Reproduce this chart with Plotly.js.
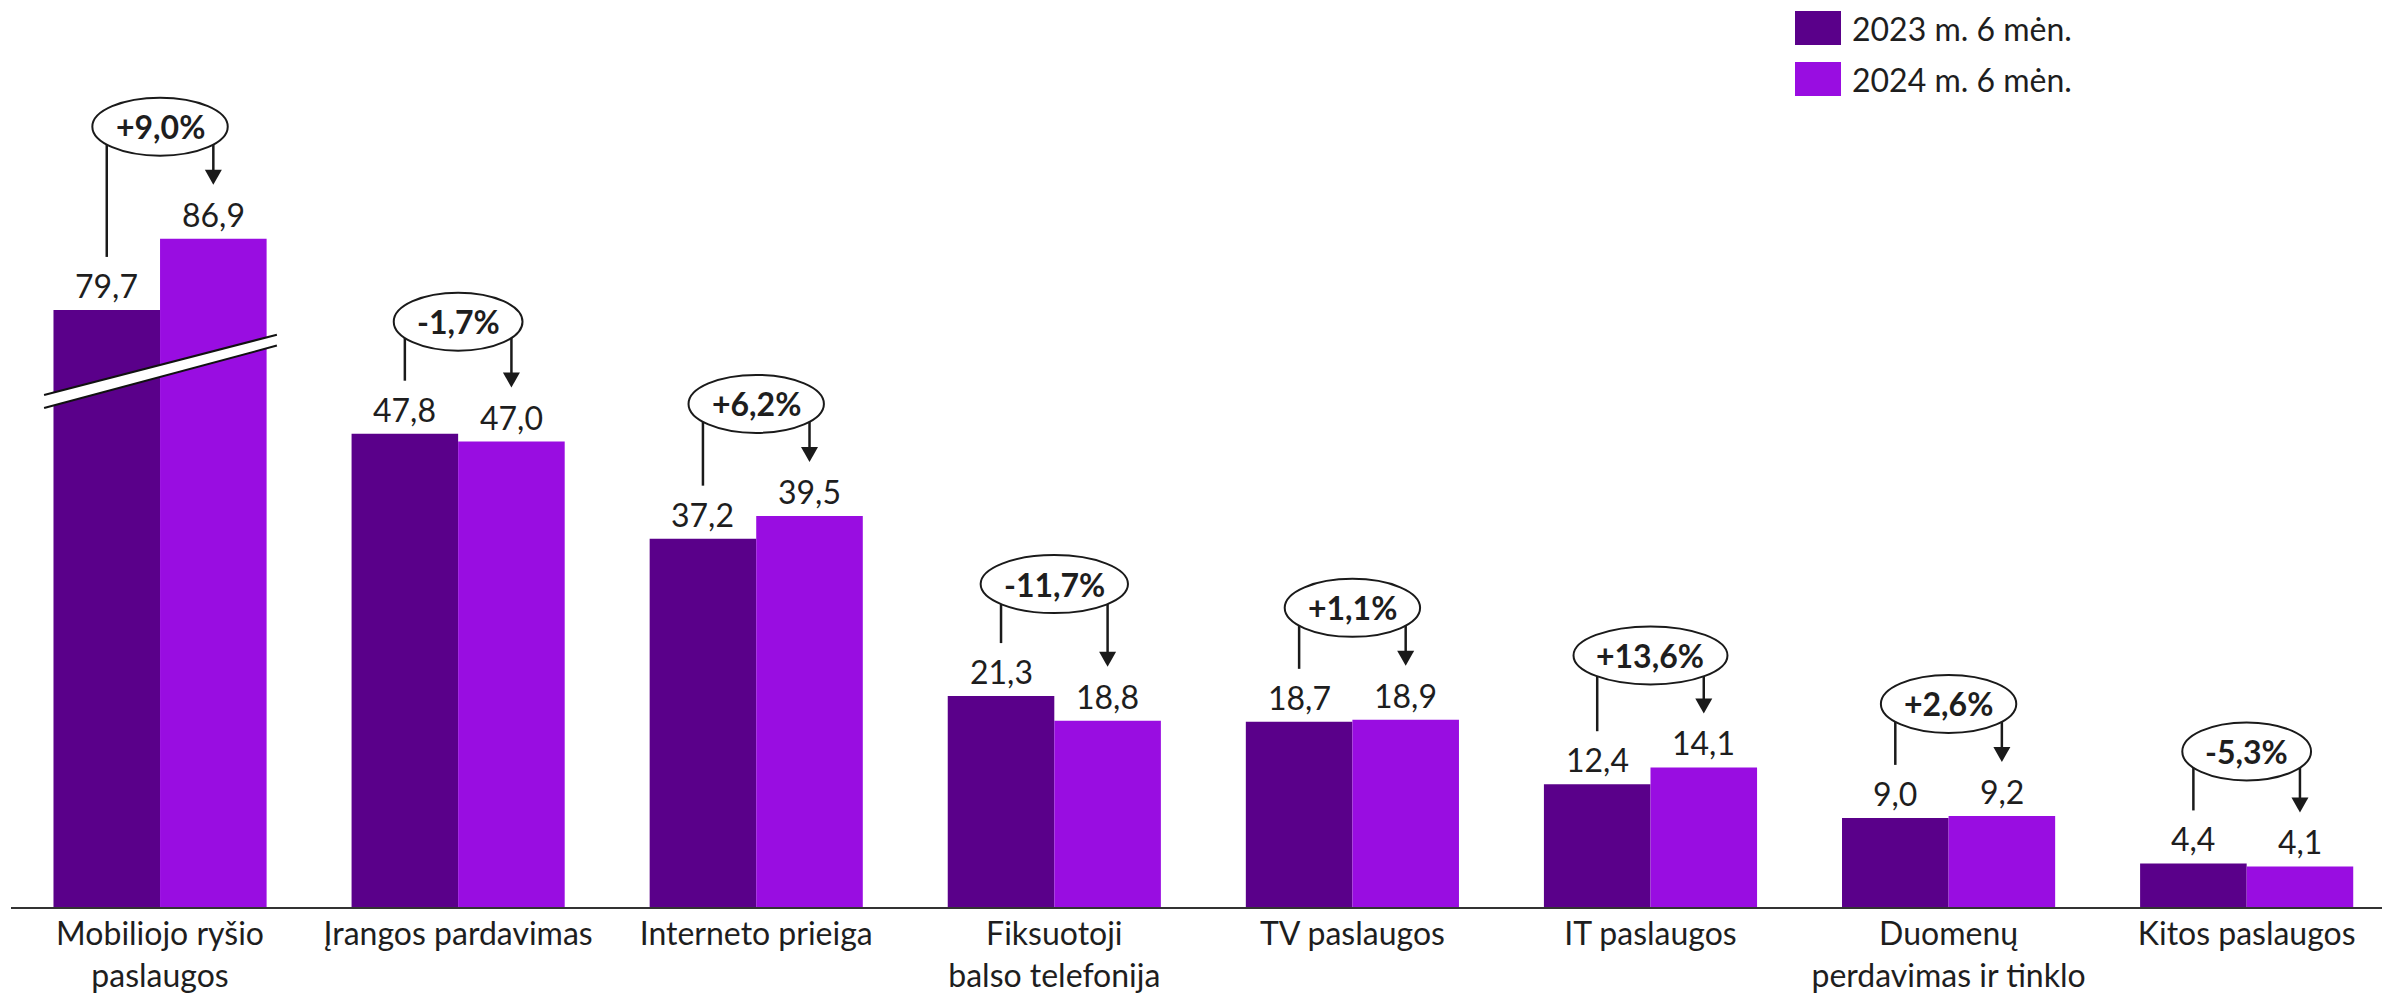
<!DOCTYPE html>
<html><head><meta charset="utf-8">
<script src="https://cdn.plot.ly/plotly-3.0.1.min.js"></script>
<style>html,body{margin:0;padding:0;background:#fff;} #chart{width:2382px;height:996px;}</style>
</head><body><div id="chart"></div>
<script>
// ---- data ----
const categories = ["Mobiliojo ryšio<br>paslaugos", "Įrangos pardavimas", "Interneto prieiga", "Fiksuotoji<br>balso telefonija", "TV paslaugos", "IT paslaugos", "Duomenų<br>perdavimas ir tinklo", "Kitos paslaugos"];
const seriesNames = ["2023 m. 6 mėn.", "2024 m. 6 mėn."];
const values2023 = [79.7, 47.8, 37.2, 21.3, 18.7, 12.4, 9.0, 4.4];
const values2024 = [86.9, 47.0, 39.5, 18.8, 18.9, 14.1, 9.2, 4.1];
const changeLabels = ["+9,0%", "-1,7%", "+6,2%", "-11,7%", "+1,1%", "+13,6%", "+2,6%", "-5,3%"];
const axisBreakOffset = [19.4, 0, 0, 0, 0, 0, 0, 0];

// ---- style / layout constants ----
const W = 2382, H = 996;
const M = {l: 11, r: 0, t: 0, b: 89};
const xRange = [-0.5, 7.454];
const yRange = [0, 91.6];
const colors = ["#5a008a", "#990de1"];
const FONT = "Lato, 'Open Sans', sans-serif";
const textColor = "#1e1e1e";
const bargap = 0.285;

const plotW = W - M.l - M.r, plotH = H - M.t - M.b;
const pxX = plotW / (xRange[1] - xRange[0]);
const pxY = plotH / (yRange[1] - yRange[0]);
const barOff = (1 - bargap) / 4;

const fmt = v => v.toFixed(1).replace('.', ',');
const idx = categories.map((_, i) => i);
const disp23 = values2023.map((v, i) => v - axisBreakOffset[i]);
const disp24 = values2024.map((v, i) => v - axisBreakOffset[i]);

const traces = [
  {type: 'bar', x: idx, y: disp23, name: seriesNames[0], marker: {color: colors[0], line: {width: 0}},
   showlegend: false, hoverinfo: 'skip'},
  {type: 'bar', x: idx, y: disp24, name: seriesNames[1], marker: {color: colors[1], line: {width: 0}},
   showlegend: false, hoverinfo: 'skip'}
];

const canvas = document.createElement('canvas');
const ctx = canvas.getContext('2d');
ctx.font = "bold 32px Lato";

const shapes = [], annotations = [];
const lineStyle = {color: '#1a1a1a', width: 2.5};
idx.forEach(i => {
  const d = disp23[i], l = disp24[i];
  // value labels
  [[d, values2023[i], -barOff], [l, values2024[i], barOff]].forEach(([yv, real, off]) => {
    annotations.push({x: i + off, y: yv, xref: 'x', yref: 'y', text: fmt(real), showarrow: false,
      xanchor: 'center', yanchor: 'bottom', yshift: 3,
      font: {family: FONT, size: 32, color: textColor}});
  });
  const top = Math.max(d, l);
  const yc = top + 112 / pxY;
  const w = ctx.measureText(changeLabels[i]).width + 46;
  const hh = 29;
  shapes.push({type: 'circle', xref: 'x', yref: 'y', xsizemode: 'pixel', ysizemode: 'pixel',
    xanchor: i, yanchor: yc, x0: -w / 2, x1: w / 2, y0: -hh, y1: hh,
    line: {color: '#1a1a1a', width: 2}, fillcolor: 'rgba(0,0,0,0)'});
  const dx = barOff * pxX;
  const edge = hh * Math.sqrt(Math.max(0, 1 - Math.pow(dx / (w / 2), 2)));
  const yStart = yc - edge / pxY;
  shapes.push({type: 'line', xref: 'x', yref: 'y', x0: i - barOff, x1: i - barOff,
    y0: yStart, y1: d + 53 / pxY, line: lineStyle});
  const tip = l + 54 / pxY;
  shapes.push({type: 'line', xref: 'x', yref: 'y', x0: i + barOff, x1: i + barOff,
    y0: yStart, y1: tip + 10 / pxY, line: lineStyle});
  shapes.push({type: 'path', xref: 'x', yref: 'y', xsizemode: 'pixel', ysizemode: 'pixel',
    xanchor: i + barOff, yanchor: tip, path: 'M-8.5,15L8.5,15L0,0Z',
    fillcolor: '#1a1a1a', line: {width: 0}});
  annotations.push({x: i, y: yc, xref: 'x', yref: 'y', text: '<b>' + changeLabels[i] + '</b>',
    showarrow: false, xanchor: 'center', yanchor: 'middle',
    font: {family: FONT, size: 32, color: textColor}});
});

// axis break band on first group
const bx0 = -0.389, bx1 = 0.392;
const bUp = [51.7, 57.8], bLo = [50.4, 56.7];
shapes.push({type: 'path', xref: 'x', yref: 'y',
  path: `M${bx0},${bUp[0]}L${bx1},${bUp[1]}L${bx1},${bLo[1]}L${bx0},${bLo[0]}Z`,
  fillcolor: '#ffffff', line: {width: 0}});
shapes.push({type: 'line', xref: 'x', yref: 'y', x0: bx0, x1: bx1, y0: bUp[0], y1: bUp[1], line: {color: '#111', width: 2}});
shapes.push({type: 'line', xref: 'x', yref: 'y', x0: bx0, x1: bx1, y0: bLo[0], y1: bLo[1], line: {color: '#111', width: 2}});

// custom legend
const px2paperX = px => (px - M.l) / plotW;
const px2paperY = py => 1 - (py - M.t) / plotH;
const legRows = [[11, 45], [62, 96]];
seriesNames.forEach((n, k) => {
  shapes.push({type: 'rect', xref: 'paper', yref: 'paper',
    x0: px2paperX(1795), x1: px2paperX(1841), y0: px2paperY(legRows[k][1]), y1: px2paperY(legRows[k][0]),
    fillcolor: colors[k], line: {width: 0}});
  annotations.push({xref: 'paper', yref: 'paper', x: px2paperX(1850), y: px2paperY((legRows[k][0] + legRows[k][1]) / 2),
    text: n, showarrow: false, xanchor: 'left', yanchor: 'middle',
    font: {family: FONT, size: 32, color: textColor}});
});

const layout = {
  width: W, height: H, margin: M,
  paper_bgcolor: '#fff', plot_bgcolor: '#fff',
  barmode: 'group', bargap: bargap, bargroupgap: 0,
  showlegend: false,
  font: {family: FONT, color: textColor},
  xaxis: {type: 'linear', range: xRange, tickmode: 'array', tickvals: idx, ticktext: categories,
    showline: true, linecolor: '#333', linewidth: 2, ticks: '', showgrid: false, zeroline: false,
    ticklabelstandoff: -2,
    tickfont: {family: FONT, size: 32, color: textColor}},
  yaxis: {range: yRange, visible: false, showgrid: false, zeroline: false},
  shapes: shapes, annotations: annotations
};
Plotly.newPlot('chart', traces, layout, {staticPlot: true, displayModeBar: false});
</script></body></html>
